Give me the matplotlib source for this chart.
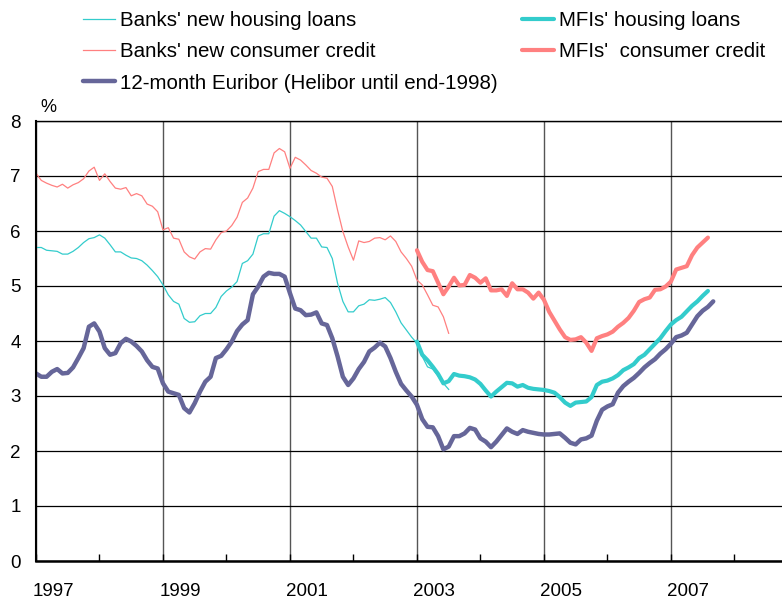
import numpy as np
import matplotlib
matplotlib.use("Agg")
import matplotlib.pyplot as plt
from matplotlib.transforms import ScaledTranslation

plt.rcParams['font.family'] = ['Liberation Sans', 'DejaVu Sans']

# ── Data (monthly, per cent) ────────────────────────────────────────
# Banks' series: Jan 1997 .. Jul 2003
banks_housing = [
    5.70, 5.70, 5.65, 5.64, 5.63, 5.58, 5.58, 5.63, 5.70, 5.79, 5.86, 5.88,
    5.93, 5.87, 5.75, 5.62, 5.62, 5.56, 5.51, 5.50, 5.46, 5.38, 5.28, 5.17,
    5.02, 4.84, 4.72, 4.67, 4.41, 4.34, 4.35, 4.46, 4.50, 4.50, 4.61, 4.81,
    4.91, 4.98, 5.08, 5.41, 5.46, 5.58, 5.91, 5.95, 5.95, 6.27, 6.37, 6.32,
    6.26, 6.19, 6.11, 5.99, 5.87, 5.87, 5.71, 5.70, 5.50, 5.05, 4.72, 4.53,
    4.53, 4.64, 4.67, 4.75, 4.74, 4.76, 4.79, 4.70, 4.53, 4.33, 4.20, 4.07,
    3.96, 3.72, 3.53, 3.49, 3.36, 3.23, 3.12,
]
banks_consumer = [
    7.05, 6.92, 6.87, 6.83, 6.80, 6.85, 6.78, 6.84, 6.88, 6.95, 7.09, 7.16,
    6.92, 7.04, 6.90, 6.78, 6.76, 6.79, 6.64, 6.68, 6.64, 6.49, 6.45, 6.35,
    6.02, 6.06, 5.87, 5.85, 5.62, 5.53, 5.49, 5.62, 5.68, 5.67, 5.84, 5.97,
    6.00, 6.10, 6.25, 6.52, 6.60, 6.78, 7.08, 7.12, 7.12, 7.42, 7.50, 7.44,
    7.14, 7.34, 7.29, 7.20, 7.10, 7.05, 6.98, 6.96, 6.81, 6.38, 5.99, 5.71,
    5.47, 5.82, 5.79, 5.81, 5.87, 5.88, 5.84, 5.91, 5.81, 5.62, 5.50, 5.36,
    5.11, 5.02, 4.84, 4.65, 4.62, 4.44, 4.14,
]

# 12-month Euribor (Helibor until end-1998): Jan 1997 .. Sep 2007
euribor = [
    3.41, 3.35, 3.35, 3.44, 3.49, 3.41, 3.42, 3.52, 3.69, 3.87, 4.26, 4.32,
    4.17, 3.87, 3.75, 3.78, 3.96, 4.04, 3.99, 3.91, 3.81, 3.65, 3.53, 3.50,
    3.23, 3.08, 3.05, 3.02, 2.78, 2.70, 2.87, 3.08, 3.26, 3.35, 3.69, 3.73,
    3.85, 3.99, 4.18, 4.30, 4.38, 4.85, 4.99, 5.17, 5.24, 5.22, 5.22, 5.17,
    4.87, 4.59, 4.56, 4.47, 4.48, 4.52, 4.32, 4.29, 4.05, 3.72, 3.35, 3.20,
    3.32, 3.49, 3.62, 3.81, 3.88, 3.97, 3.90, 3.69, 3.44, 3.22, 3.10, 2.99,
    2.84, 2.58, 2.44, 2.43, 2.27, 2.03, 2.08, 2.27, 2.27, 2.32, 2.42, 2.39,
    2.23, 2.17, 2.07, 2.17, 2.29, 2.41, 2.35, 2.31, 2.38, 2.35, 2.33, 2.31,
    2.30, 2.30, 2.31, 2.32, 2.24, 2.15, 2.12, 2.21, 2.23, 2.28, 2.55, 2.75,
    2.81, 2.85, 3.06, 3.18, 3.26, 3.33, 3.42, 3.52, 3.60, 3.67, 3.77, 3.85,
    3.95, 4.07, 4.10, 4.15, 4.30, 4.45, 4.55, 4.62, 4.72,
]

# MFIs' series: Jan 2003 .. Aug 2007
mfi_housing = [
    3.99, 3.75, 3.65, 3.53, 3.40, 3.23, 3.27, 3.40, 3.37, 3.36, 3.34, 3.30,
    3.22, 3.10, 2.99, 3.08, 3.16, 3.24, 3.23, 3.17, 3.20, 3.15, 3.13, 3.12,
    3.11, 3.09, 3.06, 2.98, 2.88, 2.82, 2.88, 2.89, 2.90, 2.98, 3.20, 3.26,
    3.28, 3.32, 3.38, 3.47, 3.52, 3.58, 3.69, 3.75, 3.85, 3.95, 4.05, 4.18,
    4.30, 4.38, 4.44, 4.54, 4.64, 4.72, 4.82, 4.91,
]
mfi_consumer = [
    5.65, 5.44, 5.29, 5.27, 5.06, 4.85, 4.99, 5.15, 5.01, 5.02, 5.20, 5.15,
    5.06, 5.14, 4.92, 4.92, 4.94, 4.82, 5.05, 4.94, 4.94, 4.88, 4.77, 4.88,
    4.75, 4.53, 4.37, 4.21, 4.07, 4.02, 4.03, 4.07, 3.97, 3.82, 4.05, 4.09,
    4.12, 4.17, 4.26, 4.33, 4.42, 4.55, 4.71, 4.76, 4.79, 4.93, 4.94, 4.99,
    5.08, 5.30, 5.33, 5.36, 5.56, 5.70, 5.79, 5.88,
]

labels = [
    "Banks' new housing loans",
    "Banks' new consumer credit",
    "12-month Euribor (Helibor until end-1998)",
    "MFIs' housing loans",
    "MFIs'  consumer credit",
]
year_ticks = list(range(1997, 2009, 2))

# x as decimal years
x_banks = 1997 + np.arange(len(banks_housing)) / 12
x_eur = 1997 + np.arange(len(euribor)) / 12
x_mfi = 2003 + np.arange(len(mfi_housing)) / 12

CYAN = '#33CCCC'
RED = '#FF8080'
PURPLE = '#666699'

fig = plt.figure(figsize=(7.82, 6.02), dpi=100)
ax = fig.add_axes([36 / 782, 41 / 602, 746 / 782, 440 / 602])

l1, = ax.plot(x_banks, banks_housing, color=CYAN, lw=0.9, label=labels[0])
l2, = ax.plot(x_banks, banks_consumer, color=RED, lw=0.9, label=labels[1])
l4, = ax.plot(x_mfi, mfi_housing, color=CYAN, lw=3.0, label=labels[3],
              solid_joinstyle='round', solid_capstyle='round')
l5, = ax.plot(x_mfi, mfi_consumer, color=RED, lw=3.0, label=labels[4],
              solid_joinstyle='round', solid_capstyle='round')
l3, = ax.plot(x_eur, euribor, color=PURPLE, lw=3.2, label=labels[2],
              solid_joinstyle='round', solid_capstyle='round')

# ── Axes styling ────────────────────────────────────────────────────
ax.set_xlim(1997, 2008.75)
ax.set_ylim(0, 8)
ax.set_yticks(range(0, 9))
ax.set_xticks(year_ticks)
ax.set_xticklabels([str(y) for y in year_ticks])
ax.set_xticks(range(1998, 2009, 2), minor=True)

ax.tick_params(axis='x', which='both', direction='in', length=5, width=1,
               color='black', labelsize=13.5, pad=16)
ax.tick_params(axis='y', length=0, labelsize=13.5, pad=11)

offset = ScaledTranslation(17 / 100, 0, fig.dpi_scale_trans)
for lab in ax.get_xticklabels():
    lab.set_transform(lab.get_transform() + offset)

ax.yaxis.grid(True, color='black', lw=0.9)
ax.xaxis.grid(True, which='major', color='#555555', lw=1.0)
ax.set_axisbelow(True)

ax.spines['right'].set_visible(False)
ax.spines['top'].set_linewidth(1.0)
ax.spines['left'].set_linewidth(1.5)
ax.spines['bottom'].set_linewidth(1.8)

fig.text(48 / 782, 1 - 107 / 602, '%', ha='center', va='center', fontsize=13)

# ── Legend: two columns at the top ─────────────────────────────────
leg_kw = dict(loc='upper left', frameon=False, fontsize=14.8, borderpad=0,
              borderaxespad=0, handlelength=1.55, handletextpad=0.24,
              labelspacing=0.6)
leg1 = fig.legend([l1, l2, l3], labels[:3],
                  bbox_to_anchor=(83 / 782, 1 - 11 / 602), **leg_kw)
leg2 = fig.legend([l4, l5], labels[3:],
                  bbox_to_anchor=(522 / 782, 1 - 11 / 602), **leg_kw)

fig.savefig('out.png', dpi=100)
